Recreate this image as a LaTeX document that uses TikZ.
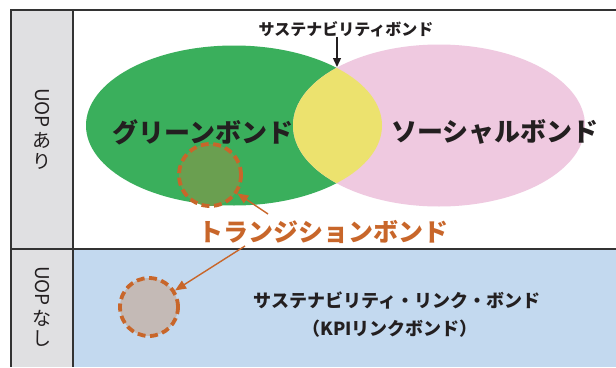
\documentclass[tikz,border=0pt]{standalone}
\usepackage{fontspec}
\newfontfamily\cjk{Noto Sans CJK JP}
\usetikzlibrary{arrows.meta}
\definecolor{gfill}{HTML}{3AAF5C}
\definecolor{pfill}{HTML}{EFC9E0}
\definecolor{yfill}{HTML}{ECE26E}
\definecolor{bfill}{HTML}{C3D9EF}
\definecolor{colgray}{HTML}{E0E0E2}
\definecolor{orng}{HTML}{C8662A}
\definecolor{txt}{HTML}{231F20}
\definecolor{tgreen}{HTML}{6A9F50}
\definecolor{tgray}{HTML}{C4BAB6}
\definecolor{frame}{HTML}{333333}
\tikzset{
  frameline/.style={draw=frame, line width=1.6pt},
  bigtxt/.style={font=\cjk\bfseries\fontsize{26}{28}\selectfont, text=txt, inner sep=0pt},
  midtxt/.style={font=\cjk\bfseries\fontsize{18}{22}\selectfont, text=txt, inner sep=0pt},
  smalltxt/.style={font=\cjk\bfseries\fontsize{16}{18}\selectfont, text=txt, inner sep=0pt},
  sidetxt/.style={font=\cjk\fontsize{19}{20}\selectfont, text=txt, inner sep=0pt},
  transcircle/.style={circle, draw=orng, line width=3.8pt, dash pattern=on 8pt off 4.5pt},
  orarrow/.style={draw=orng, line width=1.4pt, -{Triangle[length=11pt,width=9pt]}},
}
\begin{document}
\begin{tikzpicture}[x=1pt,y=-1pt]
\useasboundingbox (0,0) rectangle (616,367);
% backgrounds
\fill[white] (0,0) rectangle (616,367);
\fill[colgray] (11,10) rectangle (73,367);
\fill[bfill] (73,249) rectangle (616,367);
% ellipses
\fill[gfill] (234,125.5) ellipse [x radius=148, y radius=80];
\fill[pfill] (439,125.5) ellipse [x radius=146, y radius=81];
\begin{scope}
  \clip (234,125.5) ellipse [x radius=148, y radius=80];
  \fill[yfill] (439,125.5) ellipse [x radius=146, y radius=81];
\end{scope}
\coordinate (top) at (337,67);
% frame
\draw[frameline] (616,10) -- (11,10) -- (11,367);
\draw[frameline] (73,10) -- (73,367);
\draw[frameline] (11,249) -- (616,249);
% side labels
\node[sidetxt, rotate=-90] (uop1) at (42,108) {UOP};
\node[sidetxt] (a1) at (42,140) {あ};
\node[sidetxt] (r1) at (42,161) {り};
\node[sidetxt, rotate=-90] (uop2) at (42,286) {UOP};
\node[sidetxt] (n2) at (42,318) {な};
\node[sidetxt] (s2) at (42,339) {し};
% labels
\node[smalltxt] (sb) at (346,29) {サステナビリティボンド};
\draw[draw=txt, line width=1.4pt, -{Triangle[length=9pt,width=8pt]}] (sb.south -| top) -- (top);
\node[bigtxt] (gb) at (203,132) {グリーンボンド};
\node[bigtxt] (sob) at (495,132) {ソーシャルボンド};
% transition circles
\node[transcircle, fill=tgreen, minimum size=62pt] (c1) at (210,175) {};
\node[transcircle, fill=tgray, minimum size=58pt] (c2) at (149,307) {};
\node[font=\cjk\bfseries\fontsize{25}{28}\selectfont, text=orng, inner sep=0pt] (tb) at (323,232) {トランジションボンド};
\coordinate (s1) at (268,214);
\coordinate (s2p) at (245,246);
\draw[orarrow] (s1) -- (c1);
\draw[orarrow] (s2p) -- (c2);
% bottom text
\node[midtxt] (slb) at (397,300) {サステナビリティ・リンク・ボンド};
\node[midtxt] (kpi) at (390,329) {（KPIリンクボンド）};
\end{tikzpicture}
\end{document}
